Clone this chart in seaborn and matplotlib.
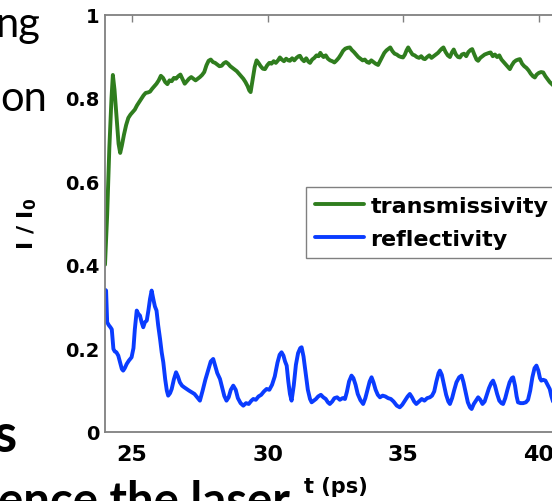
import numpy as np
import pandas as pd
import matplotlib
matplotlib.use("Agg")
import matplotlib.pyplot as plt
import seaborn as sns

# ---------------- data ----------------
trans_t = [24.00, 24.08, 24.16, 24.24, 24.29, 24.35, 24.42, 24.50, 24.56, 24.62, 24.70, 24.78, 24.86, 24.94,
           25.02, 25.10, 25.18, 25.26, 25.34, 25.42, 25.50, 25.58, 25.66, 25.74, 25.82, 25.90, 25.98,
           26.06, 26.14, 26.22, 26.30, 26.38, 26.46, 26.54, 26.62, 26.70, 26.78, 26.86, 26.94,
           27.02, 27.10, 27.18, 27.26, 27.34, 27.42, 27.50, 27.58, 27.66, 27.74, 27.82, 27.90, 27.98,
           28.06, 28.14, 28.22, 28.30, 28.38, 28.46, 28.54, 28.62, 28.70, 28.78, 28.86, 28.94,
           29.02, 29.10, 29.18, 29.26, 29.32, 29.37, 29.44, 29.52, 29.59, 29.66, 29.74, 29.82, 29.90, 29.98,
           30.06, 30.14, 30.22, 30.30, 30.38, 30.45, 30.52, 30.60, 30.68, 30.76, 30.82, 30.90, 30.98,
           31.06, 31.14, 31.19, 31.26, 31.34, 31.42, 31.50, 31.56, 31.64, 31.72, 31.80, 31.88, 31.94,
           32.00, 32.06, 32.14, 32.22, 32.30, 32.38, 32.46, 32.54, 32.62, 32.70, 32.78, 32.86, 32.94,
           33.03, 33.10, 33.18, 33.26, 33.34, 33.42, 33.50, 33.58, 33.66, 33.74, 33.82, 33.90, 33.98,
           34.07, 34.14, 34.22, 34.30, 34.38, 34.46, 34.52, 34.60, 34.68, 34.76, 34.84, 34.92, 34.99,
           35.06, 35.12, 35.18, 35.26, 35.34, 35.42, 35.50, 35.58, 35.66, 35.74, 35.80, 35.88, 35.96,
           36.04, 36.12, 36.20, 36.28, 36.36, 36.42, 36.48, 36.56, 36.64, 36.72, 36.80, 36.86, 36.94,
           37.02, 37.09, 37.16, 37.24, 37.32, 37.40, 37.48, 37.54, 37.62, 37.70, 37.76, 37.84, 37.92,
           38.00, 38.08, 38.16, 38.22, 38.30, 38.38, 38.46, 38.54, 38.62, 38.70, 38.78, 38.86, 38.93,
           39.00, 39.08, 39.16, 39.24, 39.30, 39.38, 39.46, 39.54, 39.62, 39.70, 39.78, 39.85, 39.92,
           40.00, 40.08, 40.16, 40.24, 40.32, 40.40, 40.48, 40.56, 40.70]
trans_v = [0.400, 0.520, 0.680, 0.800, 0.855, 0.820, 0.760, 0.690, 0.668, 0.685, 0.712, 0.735, 0.752, 0.760,
           0.766, 0.772, 0.782, 0.790, 0.798, 0.806, 0.812, 0.813, 0.815, 0.822, 0.828, 0.834, 0.842,
           0.853, 0.848, 0.838, 0.833, 0.842, 0.840, 0.848, 0.846, 0.852, 0.856, 0.845, 0.834,
           0.840, 0.846, 0.850, 0.846, 0.842, 0.846, 0.850, 0.855, 0.862, 0.878, 0.889, 0.892, 0.886,
           0.884, 0.880, 0.876, 0.877, 0.883, 0.886, 0.882, 0.876, 0.872, 0.868, 0.864, 0.858,
           0.852, 0.846, 0.838, 0.828, 0.818, 0.814, 0.842, 0.874, 0.890, 0.884, 0.876, 0.870, 0.869, 0.878,
           0.884, 0.882, 0.888, 0.884, 0.890, 0.897, 0.892, 0.888, 0.894, 0.890, 0.889, 0.895, 0.890,
           0.896, 0.900, 0.901, 0.893, 0.888, 0.895, 0.887, 0.884, 0.892, 0.896, 0.902, 0.900, 0.908,
           0.902, 0.898, 0.902, 0.894, 0.890, 0.888, 0.885, 0.890, 0.896, 0.904, 0.913, 0.918, 0.920,
           0.921, 0.915, 0.910, 0.904, 0.898, 0.894, 0.890, 0.892, 0.886, 0.884, 0.890, 0.886, 0.882,
           0.879, 0.888, 0.898, 0.908, 0.914, 0.918, 0.921, 0.912, 0.906, 0.904, 0.900, 0.898, 0.897,
           0.904, 0.914, 0.921, 0.912, 0.904, 0.902, 0.898, 0.896, 0.900, 0.894, 0.893, 0.898, 0.902,
           0.896, 0.900, 0.904, 0.908, 0.914, 0.918, 0.921, 0.910, 0.902, 0.898, 0.910, 0.916, 0.904,
           0.898, 0.897, 0.904, 0.906, 0.900, 0.910, 0.915, 0.917, 0.904, 0.892, 0.889, 0.896, 0.900,
           0.904, 0.906, 0.908, 0.909, 0.900, 0.904, 0.898, 0.902, 0.892, 0.886, 0.880, 0.874, 0.869,
           0.878, 0.886, 0.890, 0.892, 0.893, 0.882, 0.876, 0.872, 0.866, 0.858, 0.852, 0.849, 0.856,
           0.860, 0.862, 0.861, 0.852, 0.845, 0.838, 0.833, 0.828, 0.820]

refl_t = [24.00, 24.04, 24.08, 24.14, 24.20, 24.25, 24.31, 24.36, 24.42, 24.49, 24.56, 24.62, 24.67, 24.73,
          24.80, 24.88, 24.98, 25.05, 25.10, 25.17, 25.23, 25.29, 25.35, 25.41, 25.47, 25.54, 25.60,
          25.66, 25.72, 25.78, 25.84, 25.90, 25.96, 26.03, 26.09, 26.15, 26.22, 26.28, 26.33, 26.40,
          26.46, 26.54, 26.62, 26.69, 26.76, 26.84, 26.92, 27.01, 27.10, 27.20, 27.30, 27.40, 27.50,
          27.60, 27.70, 27.80, 27.90, 27.99, 28.06, 28.14, 28.24, 28.32, 28.40, 28.48, 28.56, 28.64,
          28.73, 28.82, 28.90, 29.00, 29.10, 29.20, 29.30, 29.40, 29.47, 29.56, 29.66, 29.76, 29.86,
          29.96, 30.06, 30.16, 30.26, 30.36, 30.44, 30.51, 30.58, 30.64, 30.70, 30.76, 30.82, 30.88,
          30.96, 31.04, 31.12, 31.20, 31.25, 31.32, 31.40, 31.48, 31.56, 31.62, 31.70, 31.78, 31.86,
          31.96, 32.05, 32.14, 32.22, 32.29, 32.38, 32.46, 32.56, 32.66, 32.76, 32.85, 32.92, 33.00,
          33.09, 33.16, 33.24, 33.32, 33.42, 33.52, 33.60, 33.68, 33.76, 33.83, 33.90, 33.98, 34.06,
          34.14, 34.24, 34.34, 34.44, 34.54, 34.64, 34.76, 34.87, 34.96, 35.06, 35.16, 35.24, 35.32,
          35.40, 35.48, 35.58, 35.68, 35.78, 35.88, 35.98, 36.06, 36.14, 36.22, 36.30, 36.35, 36.42,
          36.50, 36.58, 36.66, 36.72, 36.80, 36.88, 36.96, 37.06, 37.15, 37.22, 37.30, 37.38, 37.46,
          37.52, 37.60, 37.68, 37.76, 37.84, 37.92, 38.00, 38.08, 38.16, 38.24, 38.31, 38.38, 38.46,
          38.54, 38.62, 38.68, 38.76, 38.84, 38.92, 39.00, 39.05, 39.12, 39.18, 39.23, 39.32, 39.42,
          39.52, 39.60, 39.68, 39.76, 39.84, 39.91, 39.98, 40.04, 40.09, 40.16, 40.24, 40.32, 40.40,
          40.46, 40.52, 40.60, 40.70]
refl_v = [0.340, 0.338, 0.262, 0.255, 0.250, 0.245, 0.198, 0.192, 0.190, 0.182, 0.165, 0.150, 0.146, 0.152,
          0.162, 0.170, 0.178, 0.200, 0.245, 0.290, 0.282, 0.278, 0.262, 0.250, 0.262, 0.266, 0.290,
          0.318, 0.338, 0.318, 0.300, 0.290, 0.255, 0.222, 0.190, 0.166, 0.125, 0.098, 0.086, 0.092,
          0.102, 0.125, 0.142, 0.132, 0.118, 0.110, 0.106, 0.102, 0.098, 0.094, 0.090, 0.082, 0.074,
          0.098, 0.124, 0.146, 0.168, 0.174, 0.158, 0.140, 0.126, 0.105, 0.085, 0.074, 0.082, 0.100,
          0.110, 0.100, 0.080, 0.068, 0.062, 0.068, 0.066, 0.074, 0.078, 0.076, 0.084, 0.088, 0.096,
          0.102, 0.100, 0.112, 0.132, 0.165, 0.184, 0.190, 0.182, 0.168, 0.158, 0.120, 0.090, 0.074,
          0.110, 0.160, 0.188, 0.200, 0.202, 0.180, 0.140, 0.100, 0.078, 0.070, 0.074, 0.078, 0.084,
          0.088, 0.082, 0.078, 0.070, 0.066, 0.072, 0.080, 0.082, 0.076, 0.080, 0.078, 0.095, 0.120,
          0.134, 0.128, 0.112, 0.090, 0.075, 0.066, 0.080, 0.100, 0.120, 0.130, 0.118, 0.100, 0.088,
          0.082, 0.086, 0.084, 0.080, 0.078, 0.072, 0.062, 0.058, 0.064, 0.074, 0.084, 0.090, 0.082,
          0.072, 0.066, 0.072, 0.078, 0.074, 0.080, 0.082, 0.086, 0.096, 0.120, 0.140, 0.146, 0.136,
          0.112, 0.088, 0.072, 0.066, 0.080, 0.100, 0.118, 0.130, 0.134, 0.118, 0.094, 0.070, 0.058,
          0.054, 0.066, 0.074, 0.082, 0.076, 0.066, 0.072, 0.088, 0.104, 0.116, 0.122, 0.110, 0.090,
          0.074, 0.068, 0.066, 0.080, 0.100, 0.118, 0.128, 0.130, 0.110, 0.084, 0.070, 0.068, 0.068,
          0.070, 0.076, 0.098, 0.130, 0.152, 0.158, 0.146, 0.128, 0.122, 0.124, 0.122, 0.112, 0.102,
          0.085, 0.072, 0.070, 0.070]

series_names = ["transmissivity", "reflectivity"]
x_ticks = [25, 30, 35, 40]
x_tick_labels = ["25", "30", "35", "40"]
y_ticks = [0, 0.2, 0.4, 0.6, 0.8, 1.0]
y_tick_labels = ["0", "0.2", "0.4", "0.6", "0.8", "1"]

df = pd.concat([
    pd.DataFrame({"t": trans_t, "I": trans_v, "series": series_names[0]}),
    pd.DataFrame({"t": refl_t, "I": refl_v, "series": series_names[1]}),
], ignore_index=True)

# ---------------- figure ----------------
sns.set_style("white")
plt.rcParams["font.family"] = ["DejaVu Sans"]
plt.rcParams["text.color"] = "black"
plt.rcParams["axes.labelcolor"] = "black"
plt.rcParams["xtick.color"] = "black"
plt.rcParams["ytick.color"] = "black"

W, H = 552, 502
fig = plt.figure(figsize=(W / 100, H / 100), dpi=100)
fig.patch.set_facecolor("white")

ax_l, ax_r, ax_t, ax_b = 105, 566, 15.5, 432.5
ax = fig.add_axes([ax_l / W, 1 - ax_b / H, (ax_r - ax_l) / W, (ax_b - ax_t) / H])

palette = {"transmissivity": "#2f7d1e", "reflectivity": "#0a3cff"}
sns.lineplot(data=df, x="t", y="I", hue="series", palette=palette, hue_order=series_names,
             linewidth=2.8, errorbar=None, ax=ax)

ax.set_xlim(24, 41)
ax.set_ylim(0, 1)
ax.set_xticks(x_ticks)
ax.set_xticklabels(x_tick_labels, fontsize=16, fontweight="bold")
ax.set_yticks(y_ticks)
ax.set_yticklabels(y_tick_labels, fontsize=14, fontweight="bold")
ax.tick_params(axis="both", direction="in", length=5, width=1, color="#808080",
               top=True, right=True, labelcolor="black")
ax.tick_params(axis="x", pad=9)
ax.tick_params(axis="y", pad=4)
for s in ax.spines.values():
    s.set_color("#808080")
    s.set_linewidth(1.3)
    s.set_visible(True)

ax.set_xlabel("t (ps)", fontsize=15, fontweight="bold", color="black")
ax.xaxis.set_label_coords(0.5, (ax_b - 477) / (ax_b - ax_t))
ax.set_ylabel("")
fig.text(27 / W, 1 - 224 / H, r"I / I$_{\mathbf{0}}$", rotation=90, ha="center", va="center",
         fontsize=16, fontweight="bold", color="black")

handles, labels = ax.get_legend_handles_labels()
leg = ax.legend(handles, labels, loc="upper left", bbox_to_anchor=(306 / W, 1 - 188 / H),
                bbox_transform=fig.transFigure, prop={"weight": "bold", "size": 16},
                frameon=True, fancybox=False, framealpha=1, edgecolor="#808080",
                borderpad=0.4, handlelength=2.2, handletextpad=0.3, labelspacing=0.6,
                borderaxespad=0)
leg.get_frame().set_linewidth(1.0)
for txt in leg.get_texts():
    txt.set_color("black")
for ln in leg.get_lines():
    ln.set_linewidth(2.8)

# ---------------- surrounding slide text (cropped) ----------------
fig.text(40 / W, 1 - 37 / H, "ng", ha="right", va="baseline", fontsize=30, family="Lato",
         color="black")
fig.text(47 / W, 1 - 111 / H, "on", ha="right", va="baseline", fontsize=30, family="Lato",
         color="black")
fig.text(17 / W, 1 - 452 / H, "s", ha="right", va="baseline", fontsize=38, family="Lato",
         fontweight="bold", color="black")
fig.text(290 / W, 1 - 516 / H, "ence the laser", ha="right", va="baseline", fontsize=34,
         family="Lato", fontweight="bold", color="black")

fig.savefig("out.png", dpi=100)
